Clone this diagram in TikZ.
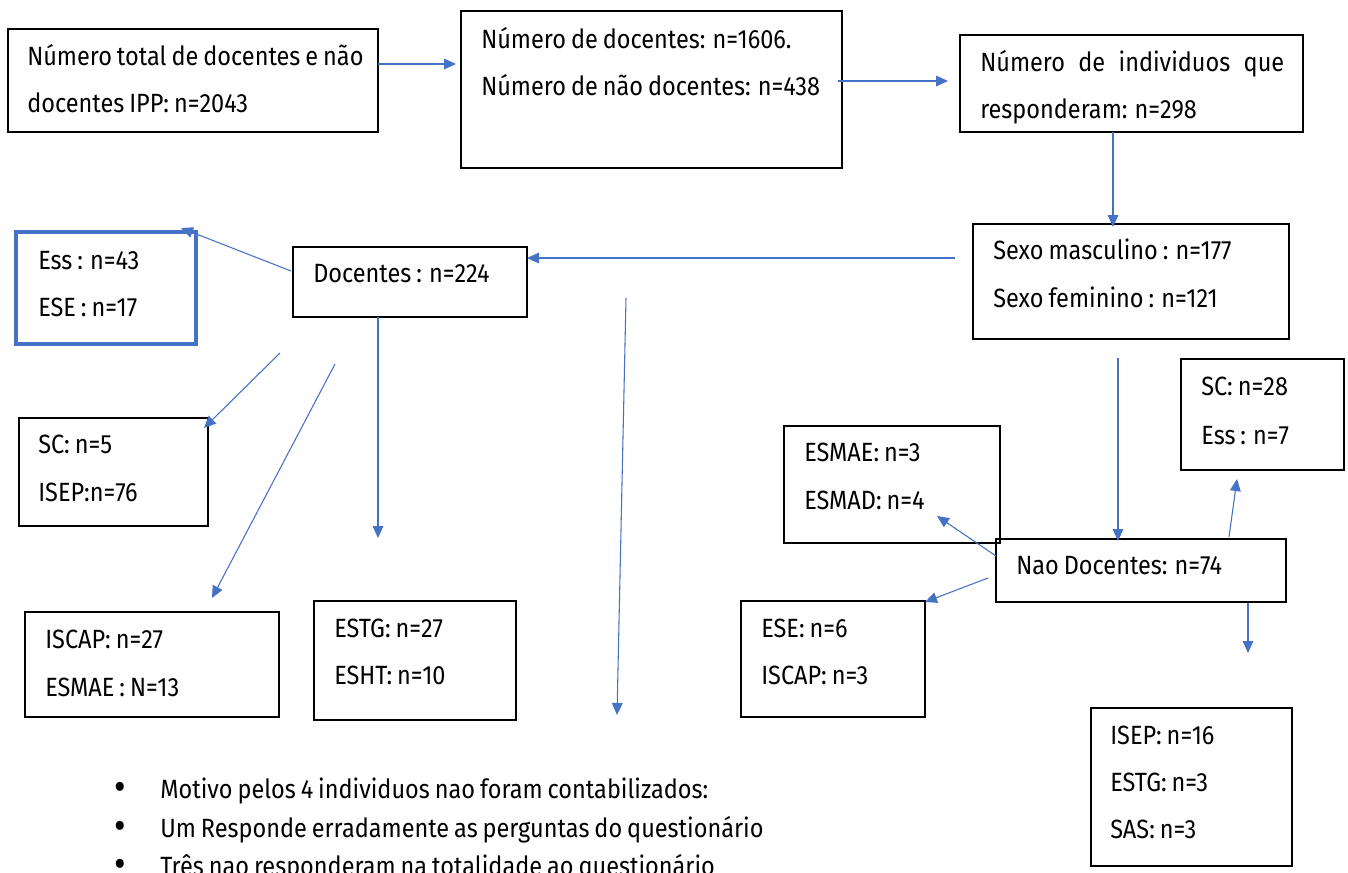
\documentclass[tikz,border=0pt]{standalone}
\usepackage{fontspec}
\setmainfont[FakeStretch=0.89,WordSpace=0.8]{Fira Sans}
\usetikzlibrary{arrows.meta}
\definecolor{arr}{HTML}{4472C4}
\newcommand\mkbox[6][]{\node[box,#1,minimum width={(#5-#3)*0.75pt},minimum height={(#6-#4)*0.75pt}] (#2) at (#3,#4) {};}
\newcommand\bul{\makebox[34.5pt][l]{\raisebox{-1.5pt}{\fontsize{30}{30}\selectfont\textbullet}}}
\begin{document}
\begin{tikzpicture}[x=0.75pt,y=-0.75pt,
  box/.style={draw=black,line width=0.9pt,inner sep=0pt,outer sep=0pt,anchor=north west},
  txt/.style={anchor=mid west,inner sep=0pt,yshift=-4pt,font=\fontsize{19.8}{22}\selectfont},
  conn/.style={draw=arr,line width=0.8pt,-{Triangle[length=9pt,width=8pt]}}]
\useasboundingbox[fill=white] (0,0) rectangle (1348,872);
% boxes
\mkbox{total}{8}{29}{378}{132}
\mkbox{num}{461}{11}{842}{168}
\mkbox{resp}{960}{35}{1303}{132}
\mkbox{sexo}{973}{224}{1289}{339}
\mkbox{doc}{293}{247}{527}{317}
\mkbox[draw=arr,line width=2.3pt]{ess}{16}{232}{196}{344}
\mkbox{sc}{19}{418}{208}{526}
\mkbox{iscap}{25}{612}{279}{717}
\mkbox{estg}{314}{601}{516}{720}
\mkbox{esmae}{784}{426}{1000}{543}
\mkbox{scr}{1181}{359}{1344}{470}
\mkbox{nao}{996}{539}{1286}{602}
\mkbox{ese}{741}{601}{925}{717}
\mkbox{isep}{1091}{708}{1292}{866}
% texts
\node[txt] (t1) at (27,57) {Número total de docentes e não};
\node[txt] (t2) at (27,104) {docentes IPP: n=2043};
\node[txt] (t3) at (481,40) {Número de docentes: n=1606.};
\node[txt] (t4) at (481,87) {Número de não docentes: n=438};
\node[txt] (t5) at (980,63) {\makebox[228pt][s]{Número de individuos que}};
\node[txt] (t6) at (980,110) {responderam: n=298};
\node[txt] (t7) at (993,251) {Sexo masculino : n=177};
\node[txt] (t8) at (993,299) {Sexo feminino : n=121};
\node[txt] (t9) at (313,274) {Docentes : n=224};
\node[txt] (t10) at (38,261) {Ess : n=43};
\node[txt] (t11) at (38,308) {ESE : n=17};
\node[txt] (t12) at (38,445) {SC: n=5};
\node[txt] (t13) at (38,493) {ISEP:n=76};
\node[txt] (t14) at (45,640) {ISCAP: n=27};
\node[txt] (t15) at (45,688) {ESMAE : N=13};
\node[txt] (t16) at (334,629) {ESTG: n=27};
\node[txt] (t17) at (334,676) {ESHT: n=10};
\node[txt] (t18) at (804,453) {ESMAE: n=3};
\node[txt] (t19) at (804,501) {ESMAD: n=4};
\node[txt] (t20) at (1201,387) {SC: n=28};
\node[txt] (t21) at (1201,436) {Ess : n=7};
\node[txt] (t22) at (1016,566) {Nao Docentes: n=74};
\node[txt] (t23) at (761,629) {ESE: n=6};
\node[txt] (t24) at (761,676) {ISCAP: n=3};
\node[txt] (t25) at (1110,736) {ISEP: n=16};
\node[txt] (t26) at (1110,783) {ESTG: n=3};
\node[txt] (t27) at (1110,830) {SAS: n=3};
\node[txt] (b1) at (114,790) {\bul Motivo pelos 4 individuos nao foram contabilizados:};
\node[txt] (b2) at (114,829) {\bul Um Responde erradamente as perguntas do questionário};
\node[txt] (b3) at (114,867) {\bul Três nao responderam na totalidade ao questionário};
% connector ends
\coordinate (a1s) at (378,64);   \coordinate (a1e) at (456,64);
\coordinate (a2s) at (838,81);   \coordinate (a2e) at (948,81);
\coordinate (a3s) at (1113,132); \coordinate (a3e) at (1113,227);
\coordinate (a4s) at (955,258);  \coordinate (a4e) at (527,258);
\coordinate (a5s) at (291,271);  \coordinate (a5e) at (181,228);
\coordinate (a6s) at (280,353);  \coordinate (a6e) at (204,428);
\coordinate (a7s) at (335,364);  \coordinate (a7e) at (212,598);
\coordinate (a8s) at (378,317);  \coordinate (a8e) at (378,538);
\coordinate (a9s) at (626,298);  \coordinate (a9e) at (617,715);
\coordinate (a10s) at (1118,358); \coordinate (a10e) at (1118,541);
\coordinate (a11s) at (996,556); \coordinate (a11e) at (937,516);
\coordinate (a12s) at (988,578); \coordinate (a12e) at (925,602);
\coordinate (a13s) at (1229,537); \coordinate (a13e) at (1237,479);
\coordinate (a14s) at (1248,603); \coordinate (a14e) at (1248,653);
\foreach \i in {1,...,14} {\draw[conn] (a\i s) -- (a\i e);}
\end{tikzpicture}
\end{document}
